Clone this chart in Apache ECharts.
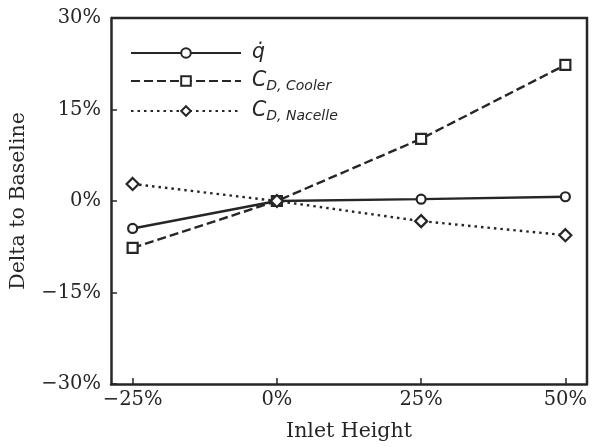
<!DOCTYPE html>
<html>
<head>
<meta charset="utf-8">
<script src="https://cdn.jsdelivr.net/npm/echarts@6/dist/echarts.min.js"></script>
<style>
  html, body { margin: 0; padding: 0; background: #fff; }
  #chart { width: 593px; height: 447px; }
</style>
</head>
<body>
<div id="chart"></div>
<script>
// Inlet height variation (relative to baseline) and resulting deltas
const inletHeight = [-25, 0, 25, 50];
const heatFlux = [-4.5, 0, 0.3, 0.7];        // q-dot
const dragCooler = [-7.7, 0, 10.2, 22.3];    // C_D, Cooler
const dragNacelle = [2.8, 0, -3.3, -5.6];    // C_D, Nacelle
const xTicks = [-25, 0, 25, 50];
const yTicks = [-30, -15, 0, 15, 30];

const ink = '#262626';
const serif = 'DejaVu Serif';
const fmtPct = v => (v < 0 ? '\u2212' + Math.abs(v) : String(v)) + '%';
const pairs = ys => inletHeight.map((x, i) => [x, ys[i]]);

const chart = echarts.init(document.getElementById('chart'), null, { renderer: 'canvas' });

const lineSeries = (name, ys, type, symbol, size) => ({
  name: name,
  type: 'line',
  data: pairs(ys),
  symbol: symbol,
  symbolSize: size,
  showAllSymbol: true,
  lineStyle: { color: ink, width: 2.4, type: type },
  itemStyle: { color: '#fff', borderColor: ink, borderWidth: 2.2 },
  emphasis: { disabled: true },
  animation: false,
  z: 3
});

chart.setOption({
  animation: false,
  grid: { left: 111, right: 6, top: 18, bottom: 62 },
  xAxis: {
    type: 'value',
    min: -28.75,
    max: 53.75,
    name: 'Inlet Height',
    nameLocation: 'middle',
    nameGap: 37,
    nameTextStyle: { fontFamily: serif, fontSize: 20.5, color: ink },
    axisLine: { show: true, onZero: false, lineStyle: { color: ink, width: 2.5 } },
    axisTick: { show: true, inside: true, length: 6, customValues: xTicks, lineStyle: { color: ink, width: 1.5 } },
    axisLabel: { customValues: xTicks, formatter: fmtPct, fontFamily: serif, fontSize: 19.5, color: ink, margin: 6 },
    splitLine: { show: false }
  },
  yAxis: {
    type: 'value',
    min: -30,
    max: 30,
    interval: 15,
    name: 'Delta to Baseline',
    nameLocation: 'middle',
    nameGap: 82,
    nameTextStyle: { fontFamily: serif, fontSize: 20.5, color: ink },
    axisLine: { show: true, onZero: false, lineStyle: { color: ink, width: 2.5 } },
    axisTick: { show: true, inside: true, length: 6, lineStyle: { color: ink, width: 1.5 } },
    axisLabel: { formatter: fmtPct, fontFamily: serif, fontSize: 19.5, color: ink, margin: 10 },
    splitLine: { show: false }
  },
  legend: {
    orient: 'vertical',
    left: 125,
    top: 38,
    itemWidth: 110,
    itemHeight: 12,
    itemGap: 8,
    data: ['q', 'cooler', 'nacelle'],
    formatter: function (n) {
      if (n === 'q') return '{c|q\u0307}';
      if (n === 'cooler') return '{c|C}{s|D, Cooler}';
      return '{c|C}{s|D, Nacelle}';
    },
    textStyle: {
      color: ink,
      padding: [0, 0, 0, 6],
      rich: {
        c: { fontFamily: 'DejaVu Sans', fontStyle: 'italic', fontSize: 20.5, color: ink, lineHeight: 24, verticalAlign: 'middle' },
        s: { fontFamily: 'DejaVu Sans', fontStyle: 'italic', fontSize: 14, color: ink, lineHeight: 16, verticalAlign: 'bottom' }
      }
    }
  },
  series: [
    lineSeries('q', heatFlux, 'solid', 'circle', 9),
    lineSeries('cooler', dragCooler, [9, 4], 'rect', 10),
    lineSeries('nacelle', dragNacelle, [2.5, 4], 'diamond', 12)
  ]
});

// top and right frame lines of the plotting area
const tl = chart.convertToPixel({ gridIndex: 0 }, [-28.75, 30]);
const br = chart.convertToPixel({ gridIndex: 0 }, [53.75, -30]);
chart.setOption({
  graphic: [{
    type: 'polyline',
    shape: { points: [[tl[0], tl[1]], [br[0], tl[1]], [br[0], br[1]]] },
    style: { stroke: ink, lineWidth: 2.5, fill: null },
    z: 10
  }]
});
</script>
</body>
</html>
